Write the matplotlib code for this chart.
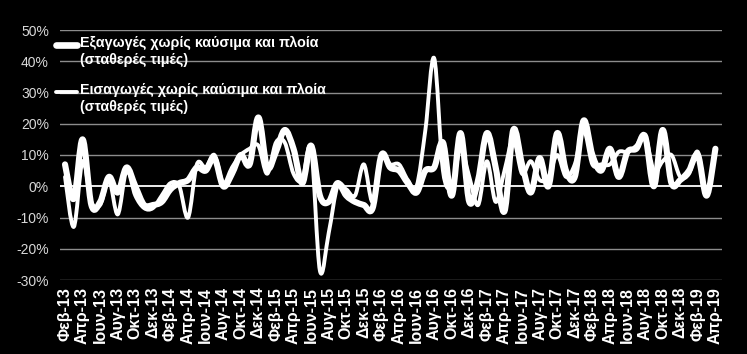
import matplotlib
matplotlib.use("Agg")
import matplotlib.pyplot as plt
from matplotlib.path import Path
from matplotlib.patches import PathPatch
from matplotlib.lines import Line2D

plt.rcParams['font.family'] = ['Liberation Sans', 'DejaVu Sans']

# ---- data (monthly, Feb-13 .. Apr-19, % y/y) ----
tick_labels = ["Φεβ-13", "Απρ-13", "Ιουν-13", "Αυγ-13", "Οκτ-13", "Δεκ-13",
               "Φεβ-14", "Απρ-14", "Ιουν-14", "Αυγ-14", "Οκτ-14", "Δεκ-14",
               "Φεβ-15", "Απρ-15", "Ιουν-15", "Αυγ-15", "Οκτ-15", "Δεκ-15",
               "Φεβ-16", "Απρ-16", "Ιουν-16", "Αυγ-16", "Οκτ-16", "Δεκ-16",
               "Φεβ-17", "Απρ-17", "Ιουν-17", "Αυγ-17", "Οκτ-17", "Δεκ-17",
               "Φεβ-18", "Απρ-18", "Ιουν-18", "Αυγ-18", "Οκτ-18", "Δεκ-18",
               "Φεβ-19", "Απρ-19"]

exports = [7, -4, 15, -6, -5, 3, -2, 6, 0, -6, -6, -5, -1,
           1, 2, 6, 5, 9, 0, 4, 10, 7, 22, 6, 11,
           18, 12, 1, 13, -3, -5, 1, -3, -5, -6, -7, 10,
           6, 5, 1, -2, 5, 6, 14, -3, 17, -5, 2, 17,
           6, -8, 18, 7, -2, 9, 0, 17, 5, 3, 21, 10,
           5, 12, 3, 11, 12, 16, 0, 18, 1, 2, 5, 10,
           -3, 12]

imports = [3, -13, 8, -5, -6, 2, -9, 5, -3, -7, -7, -3, 1,
           0, -10, 7, 6, 10, 1, 6, 10, 12, 13, 4, 14,
           14, 4, 2, 12, -27, -15, 0, -1, -3, 7, -5, 10,
           7, 7, 2, 0, 18, 41, 5, 0, 12, 3, -6, 8,
           -5, 5, 15, 4, 8, 2, 3, 10, 3, 7, 18, 7,
           7, 7, 11, 11, 13, 16, 5, 8, 10, 3, 4, 11,
           -3, 12]

series_names = ["Εξαγωγές χωρίς καύσιμα και πλοία\n(σταθερές τιμές)",
                "Εισαγωγές χωρίς καύσιμα και πλοία\n(σταθερές τιμές)"]
y_ticks = [50, 40, 30, 20, 10, 0, -10, -20, -30]
y_tick_labels = ["50%", "40%", "30%", "20%", "10%", "0%", "-10%", "-20%", "-30%"]


def smooth_path(values):
    """Excel-style smoothed line as cubic Bezier segments through the data points."""
    n = len(values)
    pts = [(float(i), float(v)) for i, v in enumerate(values)]
    verts = [pts[0]]
    codes = [Path.MOVETO]
    for i in range(n - 1):
        p0 = pts[i - 1] if i > 0 else pts[i]
        p1 = pts[i]
        p2 = pts[i + 1]
        p3 = pts[i + 2] if i + 2 < n else pts[i + 1]
        c1 = (p1[0] + (p2[0] - p0[0]) / 6.0, p1[1] + (p2[1] - p0[1]) / 6.0)
        c2 = (p2[0] - (p3[0] - p1[0]) / 6.0, p2[1] - (p3[1] - p1[1]) / 6.0)
        verts += [c1, c2, p2]
        codes += [Path.CURVE4, Path.CURVE4, Path.CURVE4]
    return Path(verts, codes)


W, H = 747, 354
fig = plt.figure(figsize=(W / 100, H / 100), dpi=100, facecolor='black')
ax = fig.add_axes([60 / W, 1 - 280 / H, (722 - 60) / W, (280 - 30) / H])
ax.set_facecolor('black')

n = len(exports)
ax.set_xlim(-0.57, n - 1 + 0.75)
ax.set_ylim(-30, 50)

for yv in y_ticks:
    if yv == 0:
        ax.axhline(yv, color='white', lw=1.3, zorder=1)
    else:
        ax.axhline(yv, color='#8c8c8c', lw=1.0, zorder=1)

ax.add_patch(PathPatch(smooth_path(imports), fill=False, edgecolor='white',
                       lw=2.8, capstyle='round', joinstyle='round', zorder=3))
ax.add_patch(PathPatch(smooth_path(exports), fill=False, edgecolor='white',
                       lw=4.4, capstyle='round', joinstyle='round', zorder=4))

ax.set_yticks(y_ticks)
ax.set_yticklabels(y_tick_labels, color='#d8d8d8', fontsize=10)
ax.set_xticks(list(range(0, n, 2)))
ax.set_xticklabels(tick_labels, rotation=90, color='white', fontsize=11.5,
                   fontweight='bold')
ax.tick_params(length=0, pad=8, axis='y')
ax.tick_params(length=0, pad=5, axis='x')
for s in ax.spines.values():
    s.set_visible(False)

# legend (top-left, handle aligned with first text line)
leg_items = [(series_names[0], 45, 4.8), (series_names[1], 92, 2.8)]
for text, ypx, lw in leg_items:
    fig.add_artist(Line2D([56 / W, 77 / W], [1 - ypx / H, 1 - ypx / H],
                          transform=fig.transFigure, color='white', lw=lw,
                          solid_capstyle='round'))
    fig.text(80 / W, 1 - (ypx - 9) / H, text, color='white', fontsize=10.3,
             fontweight='bold', va='top', ha='left', linespacing=1.22)

fig.savefig('out.png', dpi=100, facecolor='black')
